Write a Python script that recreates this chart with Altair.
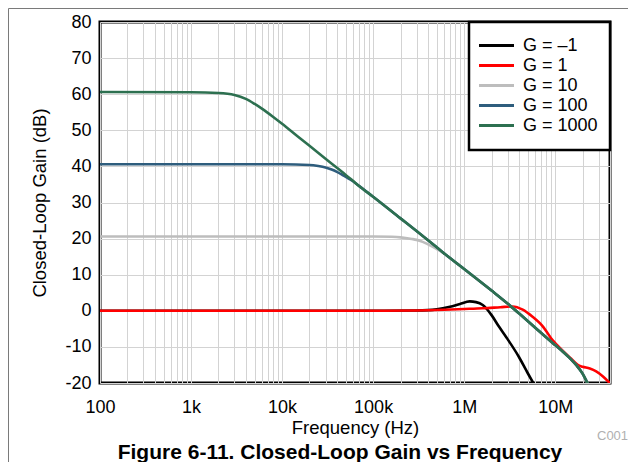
import altair as alt
import pandas as pd

# ---------------- data ----------------
series_names = ["G = \u20131", "G = 1", "G = 10", "G = 100", "G = 1000"]
series_colors = ["#000000", "#ff0000", "#bdbdbd", "#2e5d7d", "#2d7050"]

freq_gm1 = [100, 1e4, 1e5, 3e5, 5e5, 7e5, 9e5, 1.15e6, 1.35e6, 1.6e6, 2.0e6,
            2.4e6, 2.9e6, 4.0e6, 5.0e6, 5.75e6]
gain_gm1 = [0.0, 0.0, 0.0, 0.1, 0.4, 1.1, 1.9, 2.6, 2.4, 1.6, -1.2,
            -4.3, -7.3, -12.8, -17.3, -20.0]

freq_g1 = [100, 1e3, 1e4, 1e5, 3e5, 6e5, 1e6, 1.6e6, 2.5e6, 3.4e6, 4.4e6,
           5.6e6, 7.3e6, 9.4e6, 1.2e7, 1.5e7, 1.77e7, 2.0e7, 2.4e7, 2.82e7,
           3.35e7, 3.97e7]
gain_g1 = [0.0, 0.0, 0.0, 0.0, 0.1, 0.3, 0.5, 0.7, 1.0, 1.2, 0.3,
           -1.6, -4.3, -8.2, -11.0, -13.3, -15.0, -15.5, -16.0, -16.8,
           -18.2, -20.0]

freq_g10 = [100, 1e3, 1e4, 1e5, 1.6e5, 2e5, 2.66e5, 3e5, 3.5e5, 4.43e5, 5e5,
            5.7e5, 7e5, 1e6, 2e6, 3e6, 4e6, 6e6, 8e6, 1e7, 1.2e7, 1.5e7,
            1.7e7, 2e7, 2.2e7, 2.3e7]
gain_g10 = [20.6, 20.6, 20.6, 20.6, 20.5, 20.35, 19.9, 19.65, 19.1, 17.85, 17.1,
            16.25, 14.6, 11.6, 5.6, 2.0, -0.7, -4.6, -7.4, -9.5, -11.2, -13.5,
            -15.0, -17.4, -19.4, -20.4]

freq_g100 = [100, 1e3, 1e4, 2e4, 2.5e4, 3e4, 3.5e4, 4e4, 4.5e4, 5e4, 6e4,
             7e4, 1e5, 2e5, 3e5, 5e5, 7e5, 1e6, 2e6, 3e6, 4e6, 6e6, 8e6,
             1e7, 1.2e7, 1.5e7, 1.7e7, 2e7, 2.2e7, 2.3e7]
gain_g100 = [40.6, 40.6, 40.6, 40.4, 40.1, 39.7, 39.15, 38.5, 37.8, 37.1, 35.9,
             34.6, 31.6, 25.6, 22.1, 17.6, 14.6, 11.6, 5.6, 2.0, -0.7, -4.6, -7.4,
             -9.5, -11.2, -13.5, -15.0, -17.4, -19.4, -20.4]

freq_g1000 = [100, 1e3, 2e3, 3e3, 4e3, 5e3, 6e3, 8e3, 1e4, 1.5e4, 2e4, 3e4,
              4e4, 5e4, 6e4, 7e4, 1e5, 2e5, 3e5, 5e5, 7e5, 1e6, 2e6, 3e6,
              4e6, 6e6, 8e6, 1e7, 1.2e7, 1.5e7, 1.7e7, 2e7, 2.2e7, 2.3e7]
gain_g1000 = [60.6, 60.55, 60.35, 59.8, 58.7, 57.3, 56.0, 53.7, 51.8, 48.2, 45.7, 42.1,
              39.6, 37.65, 36.0, 34.6, 31.6, 25.6, 22.1, 17.6, 14.6, 11.6, 5.6, 2.0,
              -0.7, -4.6, -7.4, -9.5, -11.2, -13.5, -15.0, -17.4, -19.4, -20.4]

x_grid = [m * 10 ** e for e in range(2, 8) for m in range(1, 10) if m * 10 ** e <= 4e7]
x_labels = {100: "100", 1000: "1k", 10000: "10k", 100000: "100k",
            1000000: "1M", 10000000: "10M"}
y_ticks = [-20, -10, 0, 10, 20, 30, 40, 50, 60, 70, 80]

# ---------------- table ----------------
rows = []
for name, fr, ga in zip(series_names,
                        [freq_gm1, freq_g1, freq_g10, freq_g100, freq_g1000],
                        [gain_gm1, gain_g1, gain_g10, gain_g100, gain_g1000]):
    for f, g in zip(fr, ga):
        rows.append({"series": name, "freq": f, "gain": g})
df = pd.DataFrame(rows)

FONT = "Liberation Sans"

label_expr = " : ".join(
    f"datum.value == {k} ? '{v}'" for k, v in x_labels.items()) + " : ''"

x_enc = alt.X(
    "freq:Q",
    scale=alt.Scale(type="log", domain=[100, 4e7], nice=False),
    axis=alt.Axis(values=x_grid, labelExpr=label_expr, title="Frequency (Hz)",
                  grid=True, ticks=False, domain=False, labelPadding=15,
                  titlePadding=2, labelOverlap=False, labelFlush=False,
                  labelBound=False),
)
y_enc = alt.Y(
    "gain:Q",
    scale=alt.Scale(domain=[-20, 80], nice=False),
    axis=alt.Axis(values=y_ticks, labelExpr="'' + datum.value",
                  title="Closed-Loop Gain (dB)", grid=True, ticks=False,
                  domain=False, labelPadding=9, titlePadding=15),
)

one = pd.DataFrame({"t": ["x"]})

legend_box = alt.Chart(one).mark_rect(
    fill="white", stroke="black", strokeWidth=2.5
).encode(x=alt.value(369), x2=alt.value(510), y=alt.value(0), y2=alt.value(128))

lines = alt.Chart(df).mark_line(
    strokeWidth=2.6, interpolate="monotone", clip=True
).encode(
    x=x_enc,
    y=y_enc,
    color=alt.Color(
        "series:N",
        sort=series_names,
        scale=alt.Scale(domain=series_names, range=series_colors),
        legend=alt.Legend(
            orient="none", legendX=377.5, legendY=14.5, padding=0,
            symbolType="stroke", symbolSize=1225, symbolStrokeWidth=3,
            clipHeight=18, labelFontSize=18, labelFont=FONT,
            labelOffset=7.5, rowPadding=2, title=None, labelColor="black",
        ),
    ),
)

code_txt = alt.Chart(pd.DataFrame({"t": ["C001"]})).mark_text(
    align="left", baseline="alphabetic", fontSize=13, font=FONT, color="#b0b0b0"
).encode(x=alt.value(497), y=alt.value(418), text="t:N")

fig_txt = alt.Chart(pd.DataFrame({"t": ["Figure 6-11. Closed-Loop Gain vs Frequency"]})).mark_text(
    align="center", baseline="alphabetic", fontSize=21, font=FONT,
    fontWeight="bold", color="black"
).encode(x=alt.value(240), y=alt.value(437), text="t:N")

border_top = alt.Chart(one).mark_rule(color="#7a7a7a", strokeWidth=1).encode(
    x=alt.value(-91.5), x2=alt.value(540), y=alt.value(-13.5))
border_left = alt.Chart(one).mark_rule(color="#7a7a7a", strokeWidth=1).encode(
    x=alt.value(-91.5), y=alt.value(-13.5), y2=alt.value(470))

chart = alt.layer(
    legend_box, lines, code_txt, fig_txt, border_top, border_left
).properties(
    width=510, height=361,
    autosize=alt.AutoSizeParams(type="none"),
    padding={"left": 92, "top": 14, "right": 18, "bottom": 79},
).configure_view(
    stroke="black", strokeWidth=3
).configure_axis(
    gridColor="#d3d3d3", gridWidth=1, labelColor="black", titleColor="black",
    labelFont=FONT, titleFont=FONT, labelFontSize=18, titleFontSize=18.5,
    titleFontWeight="normal",
)

chart.save("out.html", embed_options={"renderer": "svg", "actions": False})
